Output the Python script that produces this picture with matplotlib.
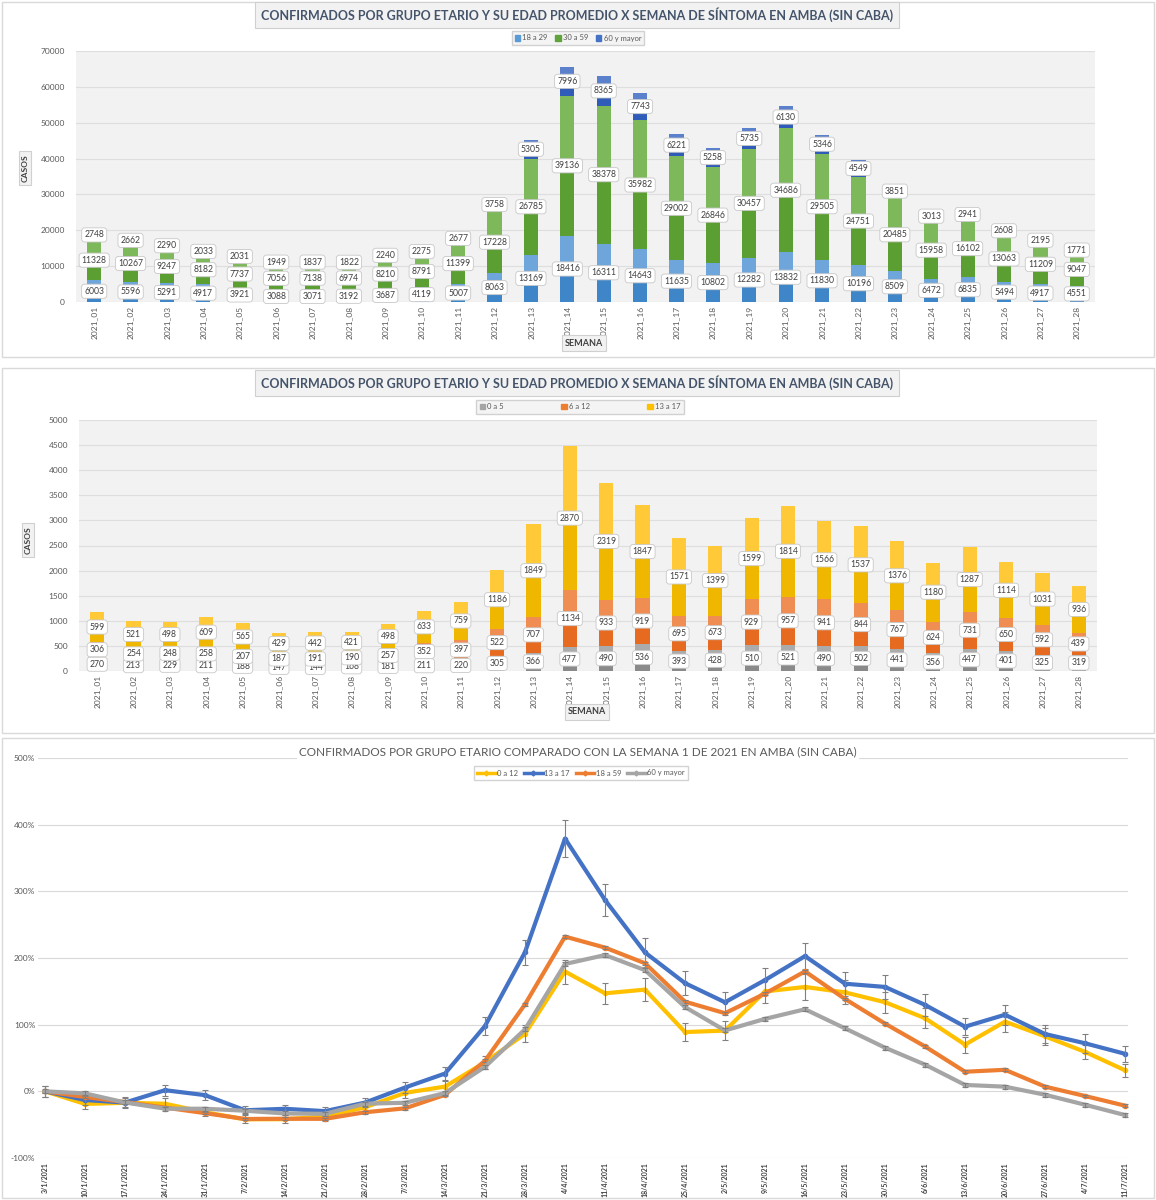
import numpy as np
import matplotlib.pyplot as plt
from matplotlib.patches import Rectangle, Patch
from matplotlib.lines import Line2D

plt.rcParams['font.family'] = ['Lato', 'DejaVu Sans']

W, H = 1156, 1200

# --- datos ---
semanas = [f"2021_{i:02d}" for i in range(1, 29)]
fechas = ["3/1/2021", "10/1/2021", "17/1/2021", "24/1/2021", "31/1/2021",
          "7/2/2021", "14/2/2021", "21/2/2021", "28/2/2021", "7/3/2021",
          "14/3/2021", "21/3/2021", "28/3/2021", "4/4/2021", "11/4/2021",
          "18/4/2021", "25/4/2021", "2/5/2021", "9/5/2021", "16/5/2021",
          "23/5/2021", "30/5/2021", "6/6/2021", "13/6/2021", "20/6/2021",
          "27/6/2021", "4/7/2021", "11/7/2021"]

g18_29 = [6003, 5596, 5291, 4917, 3921, 3088, 3071, 3192, 3687, 4119, 5007, 8063, 13169, 18416,
          16311, 14643, 11635, 10802, 12282, 13832, 11830, 10196, 8509, 6472, 6835, 5494, 4917, 4551]
g30_59 = [11328, 10267, 9247, 8182, 7737, 7056, 7138, 6974, 8210, 8791, 11399, 17228, 26785, 39136,
          38378, 35982, 29002, 26846, 30457, 34686, 29505, 24751, 20485, 15958, 16102, 13063, 11209, 9047]
g60 = [2748, 2662, 2290, 2033, 2031, 1949, 1837, 1822, 2240, 2275, 2677, 3758, 5305, 7996,
       8365, 7743, 6221, 5258, 5735, 6130, 5346, 4549, 3851, 3013, 2941, 2608, 2195, 1771]

g0_5 = [270, 213, 229, 211, 188, 147, 144, 168, 181, 211, 220, 305, 366, 477,
        490, 536, 393, 428, 510, 521, 490, 502, 441, 356, 447, 401, 325, 319]
g6_12 = [306, 254, 248, 258, 207, 187, 191, 190, 257, 352, 397, 522, 707, 1134,
         933, 919, 695, 673, 929, 957, 941, 844, 767, 624, 731, 650, 592, 439]
g13_17 = [599, 521, 498, 609, 565, 429, 442, 421, 498, 633, 759, 1186, 1849, 2870,
          2319, 1847, 1571, 1399, 1599, 1814, 1566, 1537, 1376, 1180, 1287, 1114, 1031, 936]

# variacion % respecto de la semana 1
pct_0_12 = [0, -18.9, -17.2, -18.6, -31.4, -42.0, -41.8, -37.8, -24.0, -2.3, 7.1, 43.6, 86.3, 179.7,
            147.0, 152.6, 88.9, 91.1, 149.8, 156.6, 148.4, 133.7, 109.7, 70.1, 104.5, 82.5, 59.2, 31.6]
pct_13_17 = [0, -13.0, -16.9, 1.7, -5.7, -28.4, -26.2, -29.7, -16.9, 5.7, 26.7, 98.0, 208.7, 379.1,
             287.1, 208.3, 162.3, 133.6, 166.9, 202.8, 161.4, 156.6, 129.7, 97.0, 114.9, 86.0, 72.1, 56.3]
pct_18_59 = [0, -8.5, -16.1, -24.4, -32.7, -41.5, -41.1, -41.3, -31.4, -25.5, -5.3, 45.9, 130.5, 232.1,
             215.6, 192.1, 134.5, 117.2, 146.6, 179.9, 138.5, 101.6, 67.3, 29.4, 32.3, 7.1, -7.0, -21.5]
pct_60 = [0, -3.1, -16.7, -26.0, -26.1, -29.1, -33.2, -33.7, -18.5, -17.2, -2.6, 36.8, 93.0, 191.0,
          204.4, 181.8, 126.4, 91.3, 108.7, 123.1, 94.5, 65.5, 40.1, 9.6, 7.0, -5.1, -20.1, -35.6]

err_0_12 = [8, 8, 7, 8, 6, 6, 6, 6, 7, 8, 8, 10, 13, 18, 16, 17, 14, 14, 18, 19, 18, 16, 15, 12, 15, 13, 11, 10]
err_13_17 = [8, 8, 8, 8, 7, 6, 6, 6, 7, 8, 10, 14, 19, 28, 24, 22, 18, 16, 18, 20, 18, 18, 17, 13, 15, 13, 14, 12]
err_18_59 = [2] * 28
err_60 = [3] * 28

TXT = '#595959'
TITULO = "CONFIRMADOS POR GRUPO ETARIO Y SU EDAD PROMEDIO X SEMANA DE SÍNTOMA EN AMBA (SIN CABA)"

fig = plt.figure(figsize=(W / 100, H / 100), dpi=100)


def ax_px(l, t, r, b):
    return fig.add_axes([l / W, 1 - b / H, (r - l) / W, (b - t) / H])


def marco(t, b):
    fig.patches.append(Rectangle((2 / W, 1 - b / H), (W - 4) / W, (b - t) / H,
                                 transform=fig.transFigure, fill=False, ec='#d9d9d9', lw=1))


def caja(x, y, s, size=6, rot=0, color='#404040', pad=0.35):
    fig.text(x / W, 1 - y / H, s, ha='center', va='center', rotation=rot, fontsize=size,
             color=color, fontweight='bold',
             bbox=dict(boxstyle=f'square,pad={pad}', fc='#f2f2f2', ec='#d0d0d0', lw=0.8))


def apiladas(ax, series, colores, ymax, paso):
    x = np.arange(len(semanas))
    base = np.zeros(len(x))
    for vals, (oscuro, claro) in zip(series, colores):
        v = np.array(vals, dtype=float)
        ax.bar(x, v / 2, 0.39, bottom=base, color=oscuro, zorder=2)
        ax.bar(x, v / 2, 0.39, bottom=base + v / 2, color=claro, zorder=2)
        for xi, b, val in zip(x, base, vals):
            ax.text(xi, b + val / 2, str(val), ha='center', va='center', fontsize=6.2,
                    color='#404040', zorder=5,
                    bbox=dict(boxstyle='round,pad=0.3,rounding_size=0.35', fc='white',
                              ec='#c8c8c8', lw=0.6))
        base += v
    ax.set_facecolor('#f2f2f2')
    ax.set_xlim(-0.5, len(x) - 0.5)
    ax.set_ylim(0, ymax)
    ax.set_yticks(np.arange(0, ymax + 1, paso))
    ax.set_xticks(x)
    ax.set_xticklabels(semanas, rotation=90, fontsize=6, color=TXT)
    ax.tick_params(axis='y', labelsize=6, labelcolor=TXT, length=0, pad=8)
    ax.tick_params(axis='x', length=0, pad=3)
    ax.grid(axis='y', color='#dedede', lw=0.8, zorder=0)
    for s in ax.spines.values():
        s.set_visible(False)


# ---------- panel 1 ----------
marco(2, 357)
ax1 = ax_px(76, 51, 1095, 302)
apiladas(ax1, [g18_29, g30_59, g60],
         [('#3f86c8', '#6ea6dc'), ('#5b9e32', '#7db85a'), ('#2e5cb8', '#5b80cc')], 70000, 10000)
caja(577, 15, TITULO, size=9, color='#44546a', pad=0.45)
caja(584, 343, "SEMANA", size=6.5)
caja(25, 168, "CASOS", size=6, rot=90)
h1 = [Patch(color=c) for c in ['#5b9bd5', '#5fa33a', '#4472c4']]
fig.legend(h1, ["18 a 29", "30 a 59", "60 y mayor"], loc='center', bbox_to_anchor=(578 / W, 1 - 38 / H),
           ncol=3, fontsize=5.5, frameon=True, fancybox=False, edgecolor='#c8c8c8', facecolor='#f2f2f2',
           handlelength=0.7, handleheight=0.7, handletextpad=0.3, columnspacing=1.0, labelcolor=TXT,
           borderpad=0.4)

# ---------- panel 2 ----------
marco(368, 733)
ax2 = ax_px(79, 420, 1097, 671)
apiladas(ax2, [g0_5, g6_12, g13_17],
         [('#8a8a8a', '#ababab'), ('#e66a1f', '#f08d52'), ('#efb700', '#ffc937')], 5000, 500)
caja(577, 383, TITULO, size=9, color='#44546a', pad=0.45)
caja(587, 712, "SEMANA", size=6.5)
caja(28, 540, "CASOS", size=6, rot=90)
h2 = [Patch(color=c) for c in ['#a5a5a5', '#ed7d31', '#ffc000']]
fig.legend(h2, ["0 a 5", "6 a 12", "13 a 17"], loc='center', bbox_to_anchor=(580 / W, 1 - 407 / H),
           ncol=3, fontsize=5.5, frameon=True, fancybox=False, edgecolor='#c8c8c8', facecolor='#f2f2f2',
           handlelength=0.7, handleheight=0.7, handletextpad=0.3, columnspacing=7.5, labelcolor=TXT,
           borderpad=0.5)

# ---------- panel 3 ----------
marco(738, 1198)
ax3 = ax_px(38, 758, 1128, 1158)
x = np.arange(len(fechas))
lineas = [(pct_0_12, err_0_12, '#ffc000', "0 a 12"),
          (pct_13_17, err_13_17, '#4472c4', "13 a 17"),
          (pct_18_59, err_18_59, '#ed7d31', "18 a 59"),
          (pct_60, err_60, '#a5a5a5', "60 y mayor")]
h3 = []
for i, (vals, err, col, nom) in enumerate(lineas):
    ax3.plot(x, vals, color=col, lw=3, marker='o', ms=3, zorder=3 + i * 2, solid_joinstyle='round')
    ax3.errorbar(x, vals, yerr=err, fmt='none', ecolor='#808080', elinewidth=0.8,
                 capsize=2, capthick=0.8, zorder=4 + i * 2)
    h3.append(Line2D([], [], color=col, lw=2.5, marker='D', ms=2.5))
ax3.set_xlim(-0.175, 27.075)
ax3.set_ylim(-100, 500)
ax3.set_yticks(np.arange(-100, 501, 100))
ax3.set_yticklabels([f"{v}%" for v in range(-100, 501, 100)])
ax3.set_xticks(x)
ax3.set_xticklabels(fechas, rotation=90, fontsize=5, color='#404040', fontweight='bold')
ax3.tick_params(axis='y', labelsize=6, labelcolor=TXT, length=0, pad=2)
ax3.tick_params(axis='x', length=0, pad=3)
ax3.grid(axis='y', color='#d9d9d9', lw=0.8, zorder=0)
for s in ax3.spines.values():
    s.set_visible(False)
fig.text(578 / W, 1 - 752 / H,
         "CONFIRMADOS POR GRUPO ETARIO COMPARADO CON LA SEMANA 1 DE 2021 EN AMBA (SIN CABA)",
         ha='center', va='center', fontsize=8.5, color=TXT,
         bbox=dict(boxstyle='square,pad=0.2', fc='white', ec='none'))
fig.legend(h3, [l[3] for l in lineas], loc='center', bbox_to_anchor=(581 / W, 1 - 773 / H),
           ncol=4, fontsize=5.5, frameon=True, fancybox=False, edgecolor='#c8c8c8', facecolor='white',
           handlelength=2.4, handletextpad=0.2, columnspacing=0.8, labelcolor=TXT, borderpad=0.4)

fig.savefig("out.png", dpi=100)
